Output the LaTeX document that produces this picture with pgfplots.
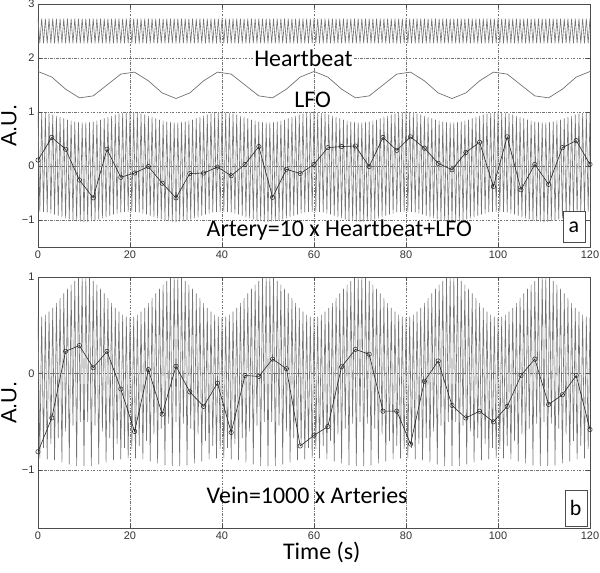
\documentclass[border=0pt]{standalone}
\usepackage{pgfplots}
\usepackage{pgfplotstable}
\pgfplotsset{compat=1.18}
\usepackage{fontspec}
\setmainfont{Liberation Sans}
\newfontfamily\carl{Carlito}

\pgfplotstableread{
t h a v
0 2.73 1.00 0.58
0.4 2.27 -0.85 -0.88
0.8 2.73 0.99 0.59
1.2 2.27 -0.85 -0.77
1.6 2.73 0.98 0.61
2 2.27 -0.86 -0.89
2.4 2.73 0.97 0.64
2.8 2.27 -0.88 -0.73
3.2 2.73 0.95 0.68
3.6 2.27 -0.90 -0.90
4 2.73 0.93 0.73
4.4 2.27 -0.92 -0.67
4.8 2.73 0.91 0.78
5.2 2.27 -0.95 -0.92
5.6 2.73 0.88 0.83
6 2.27 -0.97 -0.60
6.4 2.73 0.86 0.88
6.8 2.27 -0.99 -0.94
7.2 2.73 0.84 0.92
7.6 2.27 -1.01 -0.54
8 2.73 0.82 0.96
8.4 2.27 -1.02 -0.96
8.8 2.73 0.81 0.99
9.2 2.27 -1.03 -0.50
9.6 2.73 0.81 1.00
10 2.27 -1.04 -0.96
10.4 2.73 0.81 1.00
10.8 2.27 -1.03 -0.50
11.2 2.73 0.81 0.99
11.6 2.27 -1.02 -0.96
12 2.73 0.82 0.96
12.4 2.27 -1.01 -0.54
12.8 2.73 0.84 0.92
13.2 2.27 -0.99 -0.94
13.6 2.73 0.86 0.88
14 2.27 -0.97 -0.60
14.4 2.73 0.88 0.83
14.8 2.27 -0.95 -0.92
15.2 2.73 0.91 0.78
15.6 2.27 -0.92 -0.67
16 2.73 0.93 0.73
16.4 2.27 -0.90 -0.90
16.8 2.73 0.95 0.68
17.2 2.27 -0.88 -0.73
17.6 2.73 0.97 0.64
18 2.27 -0.86 -0.89
18.4 2.73 0.98 0.61
18.8 2.27 -0.85 -0.77
19.2 2.73 0.99 0.59
19.6 2.27 -0.85 -0.88
20 2.73 1.00 0.58
20.4 2.27 -0.85 -0.78
20.8 2.73 0.99 0.59
21.2 2.27 -0.85 -0.88
21.6 2.73 0.98 0.61
22 2.27 -0.86 -0.75
22.4 2.73 0.97 0.64
22.8 2.27 -0.88 -0.89
23.2 2.73 0.95 0.68
23.6 2.27 -0.90 -0.70
24 2.73 0.93 0.73
24.4 2.27 -0.92 -0.91
24.8 2.73 0.91 0.78
25.2 2.27 -0.95 -0.63
25.6 2.73 0.88 0.83
26 2.27 -0.97 -0.93
26.4 2.73 0.86 0.88
26.8 2.27 -0.99 -0.57
27.2 2.73 0.84 0.92
27.6 2.27 -1.01 -0.95
28 2.73 0.82 0.96
28.4 2.27 -1.02 -0.52
28.8 2.73 0.81 0.99
29.2 2.27 -1.03 -0.96
29.6 2.73 0.81 1.00
30 2.27 -1.04 -0.50
30.4 2.73 0.81 1.00
30.8 2.27 -1.03 -0.96
31.2 2.73 0.81 0.99
31.6 2.27 -1.02 -0.52
32 2.73 0.82 0.96
32.4 2.27 -1.01 -0.95
32.8 2.73 0.84 0.92
33.2 2.27 -0.99 -0.57
33.6 2.73 0.86 0.88
34 2.27 -0.97 -0.93
34.4 2.73 0.88 0.83
34.8 2.27 -0.95 -0.63
35.2 2.73 0.91 0.78
35.6 2.27 -0.92 -0.91
36 2.73 0.93 0.73
36.4 2.27 -0.90 -0.70
36.8 2.73 0.95 0.68
37.2 2.27 -0.88 -0.89
37.6 2.73 0.97 0.64
38 2.27 -0.86 -0.75
38.4 2.73 0.98 0.61
38.8 2.27 -0.85 -0.88
39.2 2.73 0.99 0.59
39.6 2.27 -0.85 -0.78
40 2.73 1.00 0.58
40.4 2.27 -0.85 -0.88
40.8 2.73 0.99 0.59
41.2 2.27 -0.85 -0.77
41.6 2.73 0.98 0.61
42 2.27 -0.86 -0.89
42.4 2.73 0.97 0.64
42.8 2.27 -0.88 -0.73
43.2 2.73 0.95 0.68
43.6 2.27 -0.90 -0.90
44 2.73 0.93 0.73
44.4 2.27 -0.92 -0.67
44.8 2.73 0.91 0.78
45.2 2.27 -0.95 -0.92
45.6 2.73 0.88 0.83
46 2.27 -0.97 -0.60
46.4 2.73 0.86 0.88
46.8 2.27 -0.99 -0.94
47.2 2.73 0.84 0.92
47.6 2.27 -1.01 -0.54
48 2.73 0.82 0.96
48.4 2.27 -1.02 -0.96
48.8 2.73 0.81 0.99
49.2 2.27 -1.03 -0.50
49.6 2.73 0.81 1.00
50 2.27 -1.04 -0.96
50.4 2.73 0.81 1.00
50.8 2.27 -1.03 -0.50
51.2 2.73 0.81 0.99
51.6 2.27 -1.02 -0.96
52 2.73 0.82 0.96
52.4 2.27 -1.01 -0.54
52.8 2.73 0.84 0.92
53.2 2.27 -0.99 -0.94
53.6 2.73 0.86 0.88
54 2.27 -0.97 -0.60
54.4 2.73 0.88 0.83
54.8 2.27 -0.95 -0.92
55.2 2.73 0.91 0.78
55.6 2.27 -0.92 -0.67
56 2.73 0.93 0.73
56.4 2.27 -0.90 -0.90
56.8 2.73 0.95 0.68
57.2 2.27 -0.88 -0.73
57.6 2.73 0.97 0.64
58 2.27 -0.86 -0.89
58.4 2.73 0.98 0.61
58.8 2.27 -0.85 -0.77
59.2 2.73 0.99 0.59
59.6 2.27 -0.85 -0.88
60 2.73 1.00 0.58
60.4 2.27 -0.85 -0.78
60.8 2.73 0.99 0.59
61.2 2.27 -0.85 -0.88
61.6 2.73 0.98 0.61
62 2.27 -0.86 -0.75
62.4 2.73 0.97 0.64
62.8 2.27 -0.88 -0.89
63.2 2.73 0.95 0.68
63.6 2.27 -0.90 -0.70
64 2.73 0.93 0.73
64.4 2.27 -0.92 -0.91
64.8 2.73 0.91 0.78
65.2 2.27 -0.95 -0.63
65.6 2.73 0.88 0.83
66 2.27 -0.97 -0.93
66.4 2.73 0.86 0.88
66.8 2.27 -0.99 -0.57
67.2 2.73 0.84 0.92
67.6 2.27 -1.01 -0.95
68 2.73 0.82 0.96
68.4 2.27 -1.02 -0.52
68.8 2.73 0.81 0.99
69.2 2.27 -1.03 -0.96
69.6 2.73 0.81 1.00
70 2.27 -1.04 -0.50
70.4 2.73 0.81 1.00
70.8 2.27 -1.03 -0.96
71.2 2.73 0.81 0.99
71.6 2.27 -1.02 -0.52
72 2.73 0.82 0.96
72.4 2.27 -1.01 -0.95
72.8 2.73 0.84 0.92
73.2 2.27 -0.99 -0.57
73.6 2.73 0.86 0.88
74 2.27 -0.97 -0.93
74.4 2.73 0.88 0.83
74.8 2.27 -0.95 -0.63
75.2 2.73 0.91 0.78
75.6 2.27 -0.92 -0.91
76 2.73 0.93 0.73
76.4 2.27 -0.90 -0.70
76.8 2.73 0.95 0.68
77.2 2.27 -0.88 -0.89
77.6 2.73 0.97 0.64
78 2.27 -0.86 -0.75
78.4 2.73 0.98 0.61
78.8 2.27 -0.85 -0.88
79.2 2.73 0.99 0.59
79.6 2.27 -0.85 -0.78
80 2.73 1.00 0.58
80.4 2.27 -0.85 -0.88
80.8 2.73 0.99 0.59
81.2 2.27 -0.85 -0.77
81.6 2.73 0.98 0.61
82 2.27 -0.86 -0.89
82.4 2.73 0.97 0.64
82.8 2.27 -0.88 -0.73
83.2 2.73 0.95 0.68
83.6 2.27 -0.90 -0.90
84 2.73 0.93 0.73
84.4 2.27 -0.92 -0.67
84.8 2.73 0.91 0.78
85.2 2.27 -0.95 -0.92
85.6 2.73 0.88 0.83
86 2.27 -0.97 -0.60
86.4 2.73 0.86 0.88
86.8 2.27 -0.99 -0.94
87.2 2.73 0.84 0.92
87.6 2.27 -1.01 -0.54
88 2.73 0.82 0.96
88.4 2.27 -1.02 -0.96
88.8 2.73 0.81 0.99
89.2 2.27 -1.03 -0.50
89.6 2.73 0.81 1.00
90 2.27 -1.04 -0.96
90.4 2.73 0.81 1.00
90.8 2.27 -1.03 -0.50
91.2 2.73 0.81 0.99
91.6 2.27 -1.02 -0.96
92 2.73 0.82 0.96
92.4 2.27 -1.01 -0.54
92.8 2.73 0.84 0.92
93.2 2.27 -0.99 -0.94
93.6 2.73 0.86 0.88
94 2.27 -0.97 -0.60
94.4 2.73 0.88 0.83
94.8 2.27 -0.95 -0.92
95.2 2.73 0.91 0.78
95.6 2.27 -0.92 -0.67
96 2.73 0.93 0.73
96.4 2.27 -0.90 -0.90
96.8 2.73 0.95 0.68
97.2 2.27 -0.88 -0.73
97.6 2.73 0.97 0.64
98 2.27 -0.86 -0.89
98.4 2.73 0.98 0.61
98.8 2.27 -0.85 -0.77
99.2 2.73 0.99 0.59
99.6 2.27 -0.85 -0.88
100 2.73 1.00 0.58
100.4 2.27 -0.85 -0.78
100.8 2.73 0.99 0.59
101.2 2.27 -0.85 -0.88
101.6 2.73 0.98 0.61
102 2.27 -0.86 -0.75
102.4 2.73 0.97 0.64
102.8 2.27 -0.88 -0.89
103.2 2.73 0.95 0.68
103.6 2.27 -0.90 -0.70
104 2.73 0.93 0.73
104.4 2.27 -0.92 -0.91
104.8 2.73 0.91 0.78
105.2 2.27 -0.95 -0.63
105.6 2.73 0.88 0.83
106 2.27 -0.97 -0.93
106.4 2.73 0.86 0.88
106.8 2.27 -0.99 -0.57
107.2 2.73 0.84 0.92
107.6 2.27 -1.01 -0.95
108 2.73 0.82 0.96
108.4 2.27 -1.02 -0.52
108.8 2.73 0.81 0.99
109.2 2.27 -1.03 -0.96
109.6 2.73 0.81 1.00
110 2.27 -1.04 -0.50
110.4 2.73 0.81 1.00
110.8 2.27 -1.03 -0.96
111.2 2.73 0.81 0.99
111.6 2.27 -1.02 -0.52
112 2.73 0.82 0.96
112.4 2.27 -1.01 -0.95
112.8 2.73 0.84 0.92
113.2 2.27 -0.99 -0.57
113.6 2.73 0.86 0.88
114 2.27 -0.97 -0.93
114.4 2.73 0.88 0.83
114.8 2.27 -0.95 -0.63
115.2 2.73 0.91 0.78
115.6 2.27 -0.92 -0.91
116 2.73 0.93 0.73
116.4 2.27 -0.90 -0.70
116.8 2.73 0.95 0.68
117.2 2.27 -0.88 -0.89
117.6 2.73 0.97 0.64
118 2.27 -0.86 -0.75
118.4 2.73 0.98 0.61
118.8 2.27 -0.85 -0.88
119.2 2.73 0.99 0.59
119.6 2.27 -0.85 -0.78
120 2.73 1.00 0.58
}\wave

\pgfplotstableread{
t lfo as vs
0 1.750 0.11 -0.81
3 1.647 0.53 -0.46
6 1.423 0.31 0.23
9 1.262 -0.26 0.29
12 1.298 -0.59 0.06
15 1.500 0.31 0.23
18 1.702 -0.21 -0.16
21 1.738 -0.13 -0.60
24 1.577 -0.01 0.04
27 1.353 -0.32 -0.42
30 1.250 -0.59 0.075
33 1.353 -0.14 -0.19
36 1.577 -0.13 -0.34
39 1.738 -0.02 -0.10
42 1.702 -0.18 -0.61
45 1.500 0.03 -0.02
48 1.298 0.36 -0.03
51 1.262 -0.58 0.15
54 1.423 -0.06 0.05
57 1.647 -0.14 -0.75
60 1.750 0.03 -0.64
63 1.647 0.34 -0.55
66 1.423 0.36 0.07
69 1.262 0.37 0.25
72 1.298 -0.01 0.20
75 1.500 0.53 -0.39
78 1.702 0.29 -0.39
81 1.738 0.54 -0.73
84 1.577 0.33 -0.08
87 1.353 0.05 0.13
90 1.250 -0.07 -0.33
93 1.353 0.25 -0.46
96 1.577 0.44 -0.39
99 1.738 -0.38 -0.50
102 1.702 0.54 -0.34
105 1.500 -0.44 -0.02
108 1.298 0.03 0.15
111 1.262 -0.34 -0.32
114 1.423 0.34 -0.22
117 1.647 0.47 -0.02
120 1.750 0.03 -0.58
}\samples

\pgfplotsset{
  panel/.style={
    width=552bp, scale only axis,
    xmin=0, xmax=120, xtick={0,20,40,60,80,100,120},
    grid=major,
    major grid style={black!55, line width=0.35pt, dash pattern=on 2.5pt off 1.5pt on 0.6pt off 1.5pt},
    axis line style={black!70, line width=0.5pt},
    tick style={black!70, line width=0.4pt},
    major tick length=4bp, tick align=inside,
    ticklabel style={font=\fontsize{11}{12}\selectfont, text=black!80},
    /pgf/number format/assume math mode=true,
    every axis y label/.style={at={(axis description cs:-0.0525,0.5)}, rotate=90, anchor=center, font=\fontsize{22}{24}\selectfont},
    every axis x label/.style={at={(axis description cs:0.514,-0.096)}, anchor=center, font=\carl\fontsize{24}{26}\selectfont},
  },
  wavestyle/.style={black!55, line width=0.6pt},
  sampstyle/.style={black!85, line width=0.6pt, mark=o, mark size=2.2bp,
    mark options={draw=black!85, fill=black!25, line width=0.5pt}},
}

\begin{document}
\begin{tikzpicture}
\useasboundingbox (-38bp,-45bp) rectangle (562bp,528bp);

% top panel
\begin{axis}[panel, at={(0bp,281bp)}, anchor=south west, height=243bp,
  ymin=-1.5, ymax=3, ytick={-1,0,1,2,3}, yticklabels={−1,0,1,2,3},
  ylabel={A.U.}]
\addplot[wavestyle] table[x=t, y=h] {\wave};
\addplot[black!55, line width=0.7pt] table[x=t, y=lfo] {\samples};
\addplot[wavestyle] table[x=t, y=a] {\wave};
\addplot[sampstyle] table[x=t, y=as] {\samples};
\node[font=\carl\fontsize{24}{26}\selectfont, anchor=base, fill=white, inner sep=1pt] at (axis cs:57.7,1.84) {Heartbeat};
\node[font=\carl\fontsize{24}{26}\selectfont, anchor=base, inner sep=1pt] at (axis cs:59.7,1.09) {LFO};
\node[font=\carl\fontsize{24}{26}\selectfont, anchor=base, inner sep=1pt] at (axis cs:65.5,-1.31) {Artery=10 x Heartbeat+LFO};
\node[draw=black!70, fill=white, line width=0.5pt, minimum width=22bp, minimum height=31bp, inner sep=0pt,
  anchor=south east, xshift=-5bp, yshift=4bp, font=\carl\fontsize{22}{24}\selectfont] at (axis description cs:1,0) {a};
\end{axis}

% bottom panel
\begin{axis}[panel, at={(0bp,0bp)}, anchor=south west, height=251bp,
  ymin=-1.6, ymax=1, ytick={-1,0,1}, yticklabels={−1,0,1},
  ylabel={A.U.}, xlabel={Time (s)}]
\addplot[wavestyle] table[x=t, y=v] {\wave};
\addplot[sampstyle] table[x=t, y=vs] {\samples};
\node[font=\carl\fontsize{24}{26}\selectfont, anchor=base, inner sep=1pt] at (axis cs:58.5,-1.35) {Vein=1000 x Arteries};
\node[draw=black!70, fill=white, line width=0.5pt, minimum width=22bp, minimum height=36bp, inner sep=0pt,
  anchor=south east, xshift=-3bp, yshift=2bp, font=\carl\fontsize{22}{24}\selectfont] at (axis description cs:1,0) {b};
\end{axis}
\end{tikzpicture}
\end{document}
